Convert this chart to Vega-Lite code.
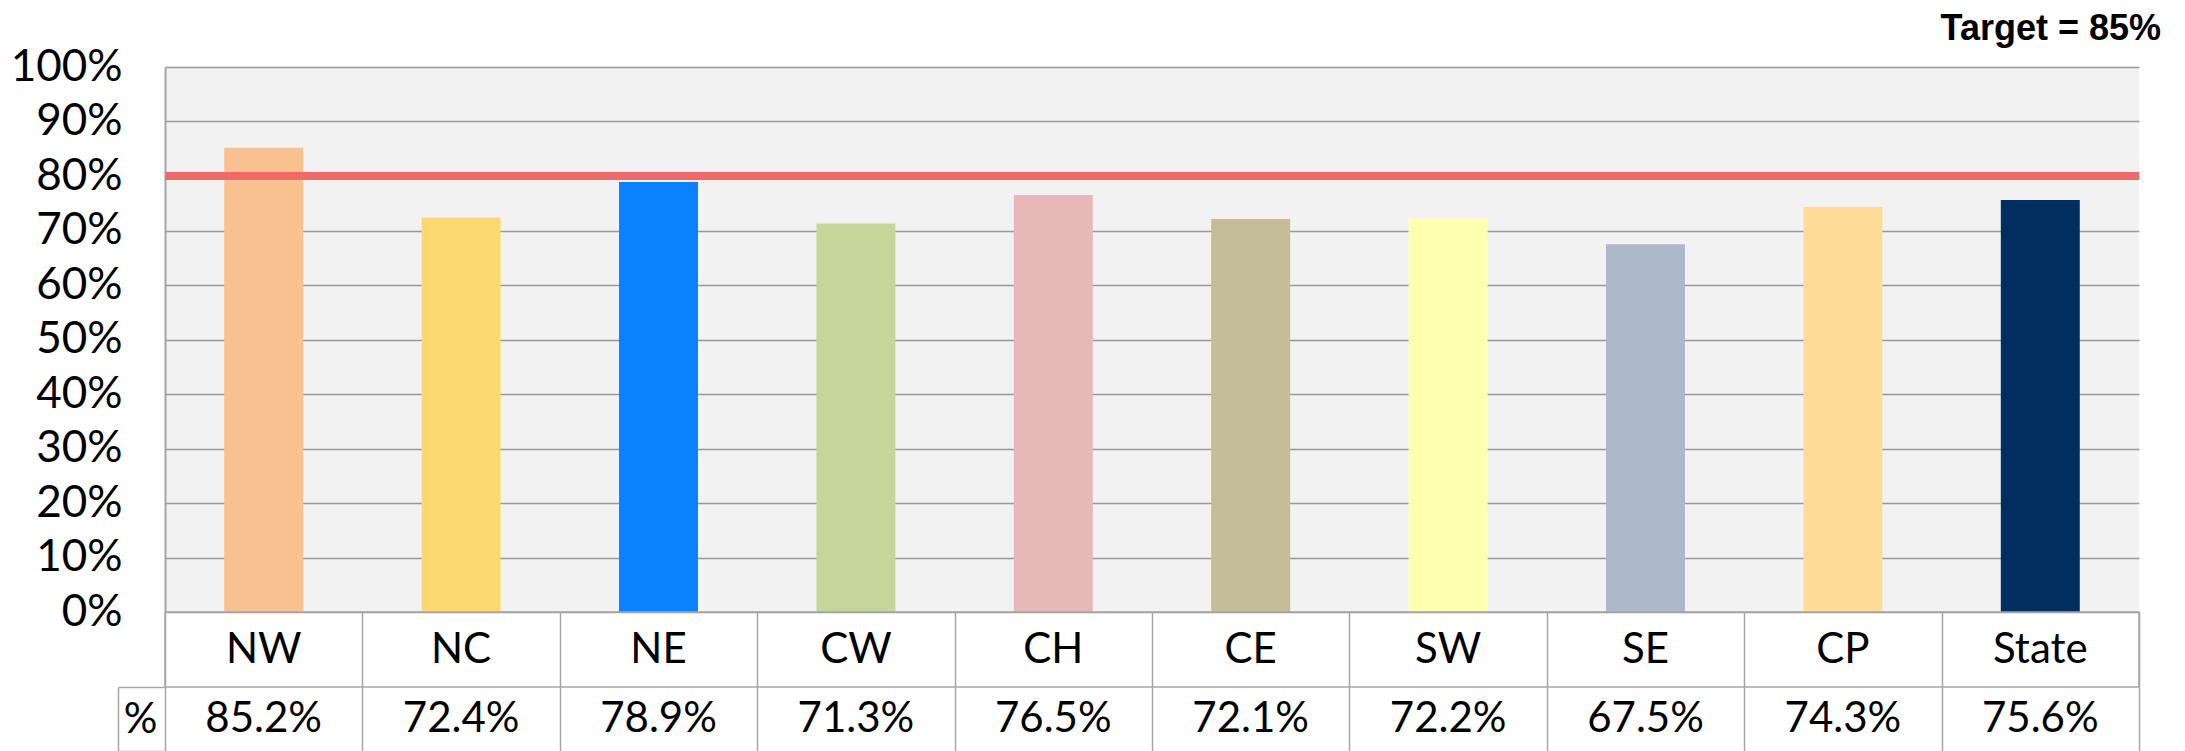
{
  "$schema": "https://vega.github.io/schema/vega-lite/v6.json",
  "background": "white",
  "padding": {"left": 10, "top": 11, "right": 20, "bottom": 0},
  "config": {"font": "Lato", "view": {"stroke": null}},
  "title": {"text": "Target = 85%", "anchor": "end", "font": "Liberation Sans", "fontSize": 36, "fontWeight": "bold", "color": "black", "offset": -3, "dx": 18},
  "datasets": {
    "d": [
      {"region": "NW", "value": 0.852},
      {"region": "NC", "value": 0.724},
      {"region": "NE", "value": 0.789},
      {"region": "CW", "value": 0.713},
      {"region": "CH", "value": 0.765},
      {"region": "CE", "value": 0.721},
      {"region": "SW", "value": 0.722},
      {"region": "SE", "value": 0.675},
      {"region": "CP", "value": 0.743},
      {"region": "State", "value": 0.756}
    ]
  },
  "spacing": 0,
  "bounds": "flush",
  "vconcat": [
    {
      "width": 1974,
      "height": 545,
      "view": {"fill": "#F2F2F2", "stroke": null},
      "data": {"name": "d"},
      "layer": [
        {
          "mark": {"type": "bar", "width": {"band": 0.4}},
          "encoding": {
            "x": {"field": "region", "type": "nominal", "sort": null, "scale": {"type": "band", "paddingInner": 0, "paddingOuter": 0}, "axis": null},
            "y": {"field": "value", "type": "quantitative", "scale": {"domain": [0, 1], "nice": false},
              "axis": {"values": [0, 0.1, 0.2, 0.3, 0.4, 0.5, 0.6, 0.7, 0.8, 0.9, 1], "format": ".0%", "title": null, "ticks": false, "labelPadding": 43, "labelFontSize": 44, "labelColor": "black", "labelFont": "Lato", "domain": true, "domainColor": "#A6A6A6", "domainWidth": 2, "grid": true, "gridColor": "#999999", "gridWidth": 1.5, "labelOverlap": false}},
            "color": {"field": "region", "type": "nominal", "legend": null,
              "scale": {"domain": ["NW", "NC", "NE", "CW", "CH", "CE", "SW", "SE", "CP", "State"],
                "range": ["#F9C090", "#FDD770", "#0A82FF", "#C4D79B", "#E6B8B7", "#C4BD97", "#FFFFB0", "#ADB9CA", "#FFDC95", "#002F5F"]}}
          }
        },
        {
          "mark": {"type": "rule", "color": "#EF6A67", "strokeWidth": 8},
          "encoding": {"y": {"datum": 0.8, "type": "quantitative"}}
        }
      ]
    },
    {
      "width": 1974,
      "height": 75,
      "view": {"stroke": "#A6A6A6", "strokeWidth": 1.5, "fill": null},
      "data": {"name": "d"},
      "mark": {"type": "text", "fontSize": 42, "font": "Lato", "color": "black"},
      "encoding": {
        "x": {"field": "region", "type": "nominal", "sort": null, "scale": {"type": "band", "paddingInner": 0, "paddingOuter": 0},
          "axis": {"tickBand": "extent", "grid": true, "gridColor": "#A6A6A6", "gridWidth": 1.5, "labels": false, "ticks": false, "domain": false, "title": null}},
        "text": {"field": "region", "type": "nominal"}
      }
    },
    {
      "width": 1974,
      "height": 64,
      "view": {"stroke": null},
      "data": {"name": "d"},
      "mark": {"type": "text", "fontSize": 42, "font": "Lato", "color": "black"},
      "encoding": {
        "x": {"field": "region", "type": "nominal", "sort": null, "scale": {"type": "band", "paddingInner": 0, "paddingOuter": 0},
          "axis": {"tickBand": "extent", "grid": true, "gridColor": "#A6A6A6", "gridWidth": 1.5, "labels": false, "ticks": false, "domain": false, "title": null}},
        "y": {"datum": "%", "type": "nominal", "scale": {"type": "band", "paddingInner": 0, "paddingOuter": 0},
          "axis": {"title": null, "offset": 47, "domain": true, "domainColor": "#A6A6A6", "domainWidth": 1.5, "ticks": true, "tickSize": -47, "tickBand": "extent", "tickColor": "#A6A6A6", "tickWidth": 1.5, "labelFontSize": 42, "labelFont": "Lato", "labelColor": "black", "labelAlign": "center", "labelPadding": 25, "grid": false}},
        "text": {"field": "value", "type": "quantitative", "format": ".1%"}
      }
    }
  ]
}
